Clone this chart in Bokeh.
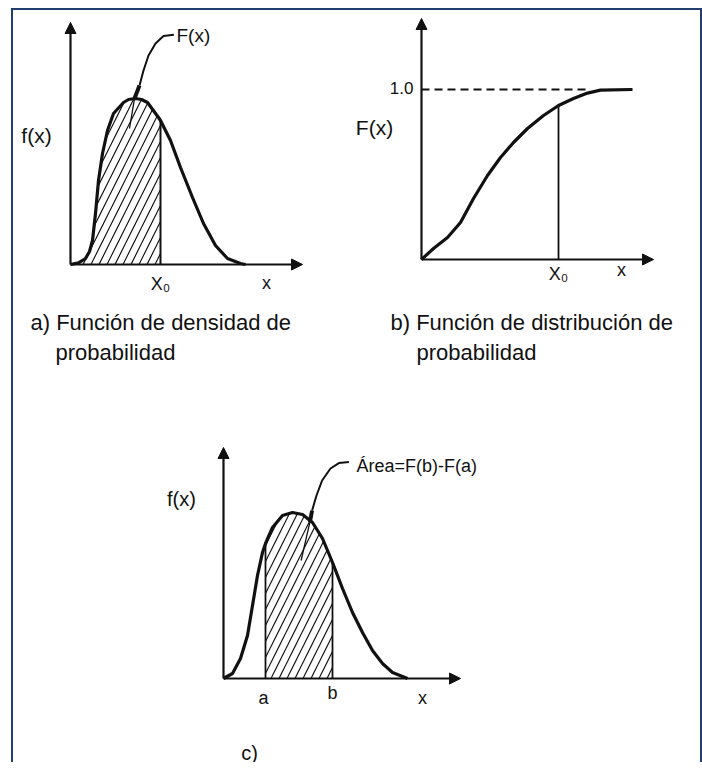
from bokeh.plotting import figure
from bokeh.layouts import column, row
from bokeh.models import Arrow, NormalHead
from bokeh.core.properties import value
from bokeh.embed import file_html
from bokeh.resources import INLINE

FONT = "Liberation Sans"
INK = "#111111"

# ---------------- data ----------------
# a) probability density f(x)
a_x = [0.0, 0.4, 0.75, 0.95, 1.1, 1.25, 1.4, 1.6, 1.85, 2.15, 2.65, 2.9, 3.25, 3.55, 3.85, 4.4, 4.5,
       5.0, 5.5, 6.1, 6.65, 7.25, 7.85, 8.5, 8.75]
a_f = [0.0, 0.08, 0.3, 0.65, 1.2, 2.55, 4.2, 5.55, 6.7, 7.55, 8.1, 8.25, 8.3, 8.25, 8.1, 7.35, 7.2,
       6.2, 4.85, 3.35, 2.05, 0.95, 0.3, 0.05, 0.0]
a_x0 = 4.5
a_lead_x = [5.17, 4.65, 4.25, 3.9, 3.65, 3.45]
a_lead_y = [11.49, 11.42, 11.05, 10.45, 9.7, 8.95]
a_tip_x = [3.45, 3.2, 2.95]
a_tip_y = [8.95, 8.3, 6.8]

# b) cumulative distribution F(x)
b_x = [0.0, 0.6, 1.3, 1.95, 2.6, 3.3, 3.95, 4.6, 5.3, 6.1, 6.85, 7.6, 8.3, 8.95, 10.55]
b_F = [0.0, 0.55, 1.1, 1.85, 3.05, 4.2, 5.1, 5.85, 6.55, 7.2, 7.7, 8.05, 8.32, 8.47, 8.5]
b_one = 8.5
b_dash_end = 8.45
b_x0 = 6.85

# c) area between a and b
c_x = [0.0, 0.45, 0.85, 1.2, 1.45, 1.7, 1.95, 2.1, 2.45, 2.95, 3.45, 3.95, 4.45, 4.95, 5.45,
       5.95, 6.45, 6.95, 7.45, 7.95, 8.45, 8.95, 9.2]
c_f = [0.0, 0.25, 1.0, 2.15, 3.65, 5.15, 6.3, 6.75, 7.55, 8.15, 8.3, 8.2, 7.8, 7.0, 5.8,
       4.5, 3.3, 2.3, 1.4, 0.75, 0.3, 0.1, 0.0]
c_a = 2.1
c_b = 5.45
c_lead_x = [6.27, 5.77, 5.35, 4.93, 4.65, 4.43]
c_lead_y = [10.82, 10.77, 10.5, 9.9, 9.15, 8.4]
c_tip_x = [4.43, 4.32, 3.88]
c_tip_y = [8.4, 7.82, 5.9]


def base_fig(w, h, xr, yr):
    p = figure(width=w, height=h, x_range=xr, y_range=yr, output_backend="svg",
               toolbar_location=None, x_axis_location=None, y_axis_location=None,
               min_border=0, outline_line_color=None, background_fill_color="white",
               border_fill_color="white")
    p.grid.visible = False
    return p


def axes(p, xmax, ymax):
    p.add_layout(Arrow(end=NormalHead(size=11, fill_color=INK, line_color=INK),
                       x_start=0, y_start=0, x_end=xmax, y_end=0,
                       line_width=2.2, line_color=INK))
    p.add_layout(Arrow(end=NormalHead(size=11, fill_color=INK, line_color=INK),
                       x_start=0, y_start=0, x_end=0, y_end=ymax,
                       line_width=2.2, line_color=INK))


def txt(p, x, y, s, size, align="center"):
    p.text(x=[x], y=[y], text=[s], text_font=value(FONT), text_font_size=f"{size}px",
           text_align=align, text_baseline="middle", text_color=INK)


def hatched(p, xs, ys, lo, hi):
    sx = [x for x in xs if lo <= x <= hi]
    sy = [y for x, y in zip(xs, ys) if lo <= x <= hi]
    p.varea(x=sx, y1=[0] * len(sx), y2=sy, fill_alpha=0, hatch_pattern="/",
            hatch_color=INK, hatch_weight=1.2, hatch_scale=16)
    return sx, sy


# ---------------- panel a ----------------
pa = base_fig(336, 374, (-2.85, 13.95), (-6.0, 12.7))
sx, sy = hatched(pa, a_x, a_f, 0, a_x0)
pa.segment(x0=[a_x0], y0=[0], x1=[a_x0], y1=[sy[-1]], line_width=2, line_color=INK)
axes(pa, 11.6, 12.1)
pa.line(a_x, a_f, line_width=3.2, line_color=INK)
pa.line(a_lead_x, a_lead_y, line_width=2, line_color=INK)
pa.line(a_tip_x[:2], a_tip_y[:2], line_width=4, line_color=INK)
pa.line(a_tip_x[1:], a_tip_y[1:], line_width=1.3, line_color=INK)
txt(pa, -1.7, 6.45, "f(x)", 21)
txt(pa, 5.3, 11.45, "F(x)", 19, "left")
txt(pa, 4.5, -0.95, "X\u2080", 18)
txt(pa, 9.8, -0.9, "x", 18)
txt(pa, -2.0, -2.9, "a) Función de densidad de", 22, "left")
txt(pa, -0.75, -4.4, "probabilidad", 22, "left")

# ---------------- panel b ----------------
pb = base_fig(351, 374, (-3.6, 13.95), (-6.25, 12.45))
pb.segment(x0=[0], y0=[b_one], x1=[b_dash_end], y1=[b_one], line_width=2,
           line_color=INK, line_dash="8 5")
pb.segment(x0=[b_x0], y0=[0], x1=[b_x0], y1=[b_F[b_x.index(b_x0)]], line_width=1.8,
           line_color=INK)
axes(pb, 11.6, 12.05)
pb.line(b_x, b_F, line_width=3.2, line_color=INK)
txt(pb, -0.4, 8.6, "1.0", 17, "right")
txt(pb, -2.35, 6.6, "F(x)", 21)
txt(pb, 6.85, -0.7, "X\u2080", 18)
txt(pb, 10.0, -0.5, "x", 18)
txt(pb, -1.55, -3.15, "b) Función de distribución de", 22, "left")
txt(pb, -0.25, -4.65, "probabilidad", 22, "left")

# ---------------- panel c ----------------
pc = base_fig(687, 378, (-10.5, 23.85), (-4.2, 14.7))
sx, sy = hatched(pc, c_x, c_f, c_a, c_b)
pc.segment(x0=[c_a, c_b], y0=[0, 0], x1=[c_a, c_b], y1=[sy[0], sy[-1]],
           line_width=1.8, line_color=INK)
axes(pc, 11.85, 11.55)
pc.line(c_x, c_f, line_width=3.2, line_color=INK)
pc.line(c_lead_x, c_lead_y, line_width=2, line_color=INK)
pc.line(c_tip_x[:2], c_tip_y[:2], line_width=4, line_color=INK)
pc.line(c_tip_x[1:], c_tip_y[1:], line_width=1.3, line_color=INK)
txt(pc, -2.1, 9.0, "f(x)", 20)
txt(pc, 6.65, 10.65, "Área=F(b)-F(a)", 18, "left")
txt(pc, 2.0, -0.95, "a", 18)
txt(pc, 5.45, -0.7, "b", 18)
txt(pc, 9.95, -0.95, "x", 18)
txt(pc, 1.3, -3.7, "c)", 20)

border = "2px solid #213f6f"
layout = column(row(pa, pb), pc,
                styles={"border-left": border, "border-top": border, "border-right": border,
                        "margin-left": "11px", "margin-top": "8px"})

open("out.html", "w").write(file_html(layout, INLINE))
